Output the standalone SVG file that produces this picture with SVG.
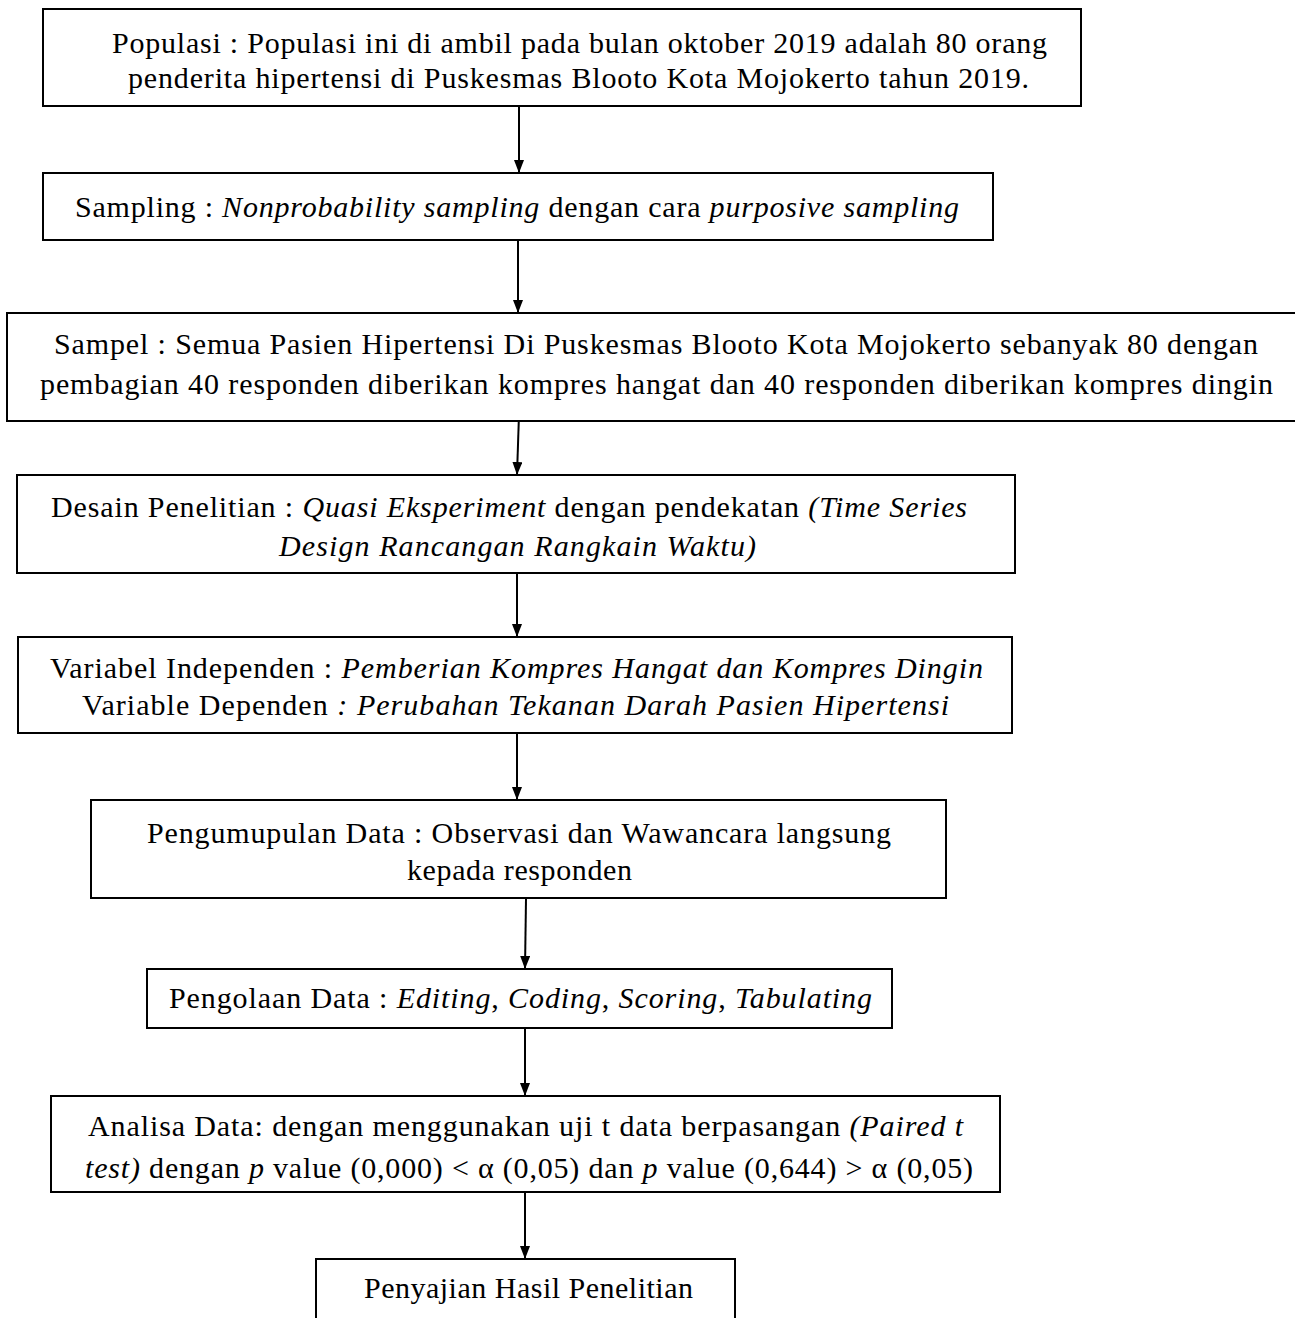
<svg xmlns="http://www.w3.org/2000/svg" width="1295" height="1318" viewBox="0 0 1295 1318">
<style>
.box{fill:#fff;stroke:#000;stroke-width:2}
.t{font-family:"Liberation Serif","Times New Roman",serif;font-size:30px;fill:#000}
.i{font-style:italic}
.c{stroke:#000;stroke-width:2;fill:none;marker-end:url(#ah)}
</style>
<defs>
<marker id="ah" markerUnits="userSpaceOnUse" markerWidth="13" markerHeight="10" refX="13" refY="5" orient="auto" viewBox="0 0 13 10">
<path d="M0,0 L13,5 L0,10 z" fill="#000"/>
</marker>
</defs>
<rect width="1295" height="1318" fill="#fff"/>
<g id="connectors">
<line class="c" x1="519" y1="107" x2="519" y2="173"/>
<line class="c" x1="518" y1="241" x2="518" y2="313"/>
<line class="c" x1="519" y1="414" x2="517" y2="475"/>
<line class="c" x1="517" y1="574" x2="517" y2="637"/>
<line class="c" x1="517" y1="734" x2="517" y2="800"/>
<line class="c" x1="526" y1="899" x2="525" y2="969"/>
<line class="c" x1="525" y1="1029" x2="525" y2="1096"/>
<line class="c" x1="525" y1="1193" x2="525" y2="1259"/>
</g>
<g id="populasi">
<rect class="box" x="43" y="9" width="1038" height="97"/>
<text class="t" x="112" y="53" textLength="935" lengthAdjust="spacing">Populasi : Populasi ini di ambil pada bulan oktober 2019 adalah 80 orang</text>
<text class="t" x="128" y="88" textLength="901" lengthAdjust="spacing">penderita hipertensi di Puskesmas Blooto Kota Mojokerto tahun 2019.</text>
</g>
<g id="sampling">
<rect class="box" x="43" y="173" width="950" height="67"/>
<text class="t" x="75" y="217" textLength="884" lengthAdjust="spacing">Sampling : <tspan class="i">Nonprobability sampling</tspan> dengan cara <tspan class="i">purposive sampling</tspan></text>
</g>
<g id="sampel">
<rect class="box" x="7" y="313" width="1300" height="108"/>
<text class="t" x="54" y="354" textLength="1204" lengthAdjust="spacing">Sampel : Semua Pasien Hipertensi Di Puskesmas Blooto Kota Mojokerto sebanyak 80 dengan</text>
<text class="t" x="40" y="394" textLength="1233" lengthAdjust="spacing">pembagian 40 responden diberikan kompres hangat dan 40 responden diberikan kompres dingin</text>
</g>
<g id="desain">
<rect class="box" x="17" y="475" width="998" height="98"/>
<text class="t" x="51" y="517" textLength="916" lengthAdjust="spacing">Desain Penelitian : <tspan class="i">Quasi Eksperiment</tspan> dengan pendekatan <tspan class="i">(Time Series</tspan></text>
<text class="t i" x="279" y="556" textLength="477" lengthAdjust="spacing">Design Rancangan Rangkain Waktu)</text>
</g>
<g id="variabel">
<rect class="box" x="18" y="637" width="994" height="96"/>
<text class="t" x="50" y="678" textLength="933" lengthAdjust="spacing">Variabel Independen : <tspan class="i">Pemberian Kompres Hangat dan Kompres Dingin</tspan></text>
<text class="t" x="82" y="715" textLength="867" lengthAdjust="spacing">Variable Dependen <tspan class="i">: Perubahan Tekanan Darah Pasien Hipertensi</tspan></text>
</g>
<g id="pengumpulan">
<rect class="box" x="91" y="800" width="855" height="98"/>
<text class="t" x="147" y="843" textLength="744" lengthAdjust="spacing">Pengumupulan Data : Observasi dan Wawancara langsung</text>
<text class="t" x="407" y="880" textLength="225" lengthAdjust="spacing">kepada responden</text>
</g>
<g id="pengolaan">
<rect class="box" x="147" y="969" width="745" height="59"/>
<text class="t" x="169" y="1008" textLength="703" lengthAdjust="spacing">Pengolaan Data : <tspan class="i">Editing</tspan>, <tspan class="i">Coding</tspan>, <tspan class="i">Scoring</tspan>, <tspan class="i">Tabulating</tspan></text>
</g>
<g id="analisa">
<rect class="box" x="51" y="1096" width="949" height="96"/>
<text class="t" x="88" y="1136" textLength="875" lengthAdjust="spacing">Analisa Data: dengan menggunakan uji t data berpasangan <tspan class="i">(Paired t</tspan></text>
<text class="t" x="85" y="1178" textLength="888" lengthAdjust="spacing"><tspan class="i">test)</tspan> dengan <tspan class="i">p</tspan> value (0,000) &lt; α (0,05) dan <tspan class="i">p</tspan> value (0,644) &gt; α (0,05)</text>
</g>
<g id="penyajian">
<rect class="box" x="316" y="1259" width="419" height="80"/>
<text class="t" x="364" y="1298" textLength="329" lengthAdjust="spacing">Penyajian Hasil Penelitian</text>
</g>
</svg>
